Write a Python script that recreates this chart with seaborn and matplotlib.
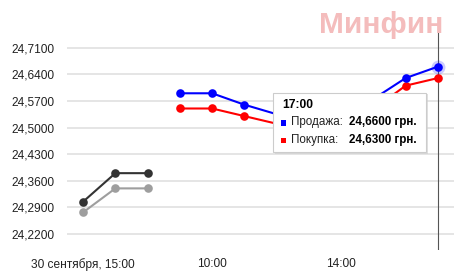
import matplotlib
matplotlib.use("Agg")
import matplotlib.pyplot as plt
import seaborn as sns
import pandas as pd
from matplotlib.patches import Rectangle

# ---- data ----
times = ["15:00", "16:00", "17:00",
         "09:00", "10:00", "11:00", "12:00", "13:00", "14:00", "15:00", "16:00", "17:00"]
prev_sell = [24.305, 24.38, 24.38]
prev_buy = [24.277, 24.34, 24.34]
sell = [24.59, 24.59, 24.56, 24.535, 24.53, 24.55, 24.575, 24.63, 24.66]
buy = [24.55, 24.55, 24.53, 24.51, 24.50, 24.52, 24.548, 24.61, 24.63]
yticks = [24.22, 24.29, 24.36, 24.43, 24.50, 24.57, 24.64, 24.71]
xtick_idx = [0, 4, 8]
xtick_labels = ["30 сентября, 15:00", "10:00", "14:00"]
tooltip_time = "17:00"
tooltip_sell = "24,6600 грн."
tooltip_buy = "24,6300 грн."

n_prev = len(prev_sell)
rows = []
for i, v in enumerate(prev_sell):
    rows.append(dict(pos=i, value=v, series="prev_sell"))
for i, v in enumerate(prev_buy):
    rows.append(dict(pos=i, value=v, series="prev_buy"))
for i, v in enumerate(sell):
    rows.append(dict(pos=n_prev + i, value=v, series="Продажа"))
for i, v in enumerate(buy):
    rows.append(dict(pos=n_prev + i, value=v, series="Покупка"))
df = pd.DataFrame(rows)

sns.set_style("white")
plt.rcParams["font.family"] = ["Liberation Sans", "DejaVu Sans"]

W, H = 465, 280
fig = plt.figure(figsize=(W / 100, H / 100), dpi=100)
ax = fig.add_axes([67 / W, 1 - 250 / H, (454 - 67) / W, (250 - 29) / H])

palette = {"prev_sell": "#333333", "prev_buy": "#9e9e9e", "Продажа": "#0000ff", "Покупка": "#ff0000"}
sns.lineplot(data=df, x="pos", y="value", hue="series", palette=palette,
             hue_order=["prev_buy", "prev_sell", "Покупка", "Продажа"],
             marker="o", markersize=6.2, markeredgewidth=0, linewidth=1.5,
             legend=False, ax=ax, zorder=3)

# hover halo on last point
last_x = len(times) - 1
ax.scatter([last_x], [sell[-1]], s=100, color="#0000ff", alpha=0.2, linewidths=0, zorder=4)

ax.set_xlim(-0.5, len(times) - 0.5)
ax.set_ylim(24.178, 24.759)
ax.set_yticks(yticks)
ax.set_yticklabels([f"{v:.4f}".replace(".", ",") for v in yticks])
ax.set_xticks(xtick_idx)
ax.set_xticklabels(xtick_labels)
ax.tick_params(axis="both", length=0, labelsize=8.6, labelcolor="#222222")
ax.tick_params(axis="y", pad=9)
ax.tick_params(axis="x", pad=6)
ax.set_xlabel("")
ax.set_ylabel("")
for s in ax.spines.values():
    s.set_visible(False)
ax.yaxis.grid(True, color="#e0e0e0", linewidth=1.2, zorder=0)
ax.xaxis.grid(False)
ax.set_axisbelow(True)

# crosshair
ax.axvline(last_x, color="#555555", linewidth=0.8, zorder=2)

# watermark
fig.text(443 / W, 1 - 25 / H, "Минфин", ha="right", va="center", fontsize=21.5,
         fontweight="bold", color="#f4bcbc")

# tooltip
def px(x, y):
    return (x / W, 1 - y / H)

x0, y0, x1, y1 = 273, 92.5, 426, 152
shadow = Rectangle(px(x0 + 1.5, y1 + 1.5), (x1 - x0) / W, (y1 - y0) / H,
                   transform=fig.transFigure, facecolor="#cccccc", edgecolor="none",
                   alpha=0.6, zorder=9)
box = Rectangle(px(x0, y1), (x1 - x0) / W, (y1 - y0) / H, transform=fig.transFigure,
                facecolor="white", edgecolor="#cccccc", linewidth=0.8, zorder=10)
fig.add_artist(shadow)
fig.add_artist(box)
fs = 8.4
fig.text(*px(282, 105), tooltip_time, ha="left", va="center", fontsize=fs + 0.3,
         fontweight="bold", color="#000000", zorder=11)
fig.add_artist(Rectangle(px(280.5, 125.5), 5 / W, 5 / H, transform=fig.transFigure,
                         facecolor="#0000ff", edgecolor="none", zorder=11))
fig.text(*px(290.5, 122.5), "Продажа:", ha="left", va="center", fontsize=fs,
         color="#222222", zorder=11)
fig.text(*px(417, 122.5), tooltip_sell, ha="right", va="center", fontsize=fs,
         fontweight="bold", color="#000000", zorder=11)
fig.add_artist(Rectangle(px(280.5, 143), 5 / W, 5 / H, transform=fig.transFigure,
                         facecolor="#ff0000", edgecolor="none", zorder=11))
fig.text(*px(290.5, 140), "Покупка:", ha="left", va="center", fontsize=fs,
         color="#222222", zorder=11)
fig.text(*px(417, 140), tooltip_buy, ha="right", va="center", fontsize=fs,
         fontweight="bold", color="#000000", zorder=11)

fig.savefig("out.png", dpi=100)
